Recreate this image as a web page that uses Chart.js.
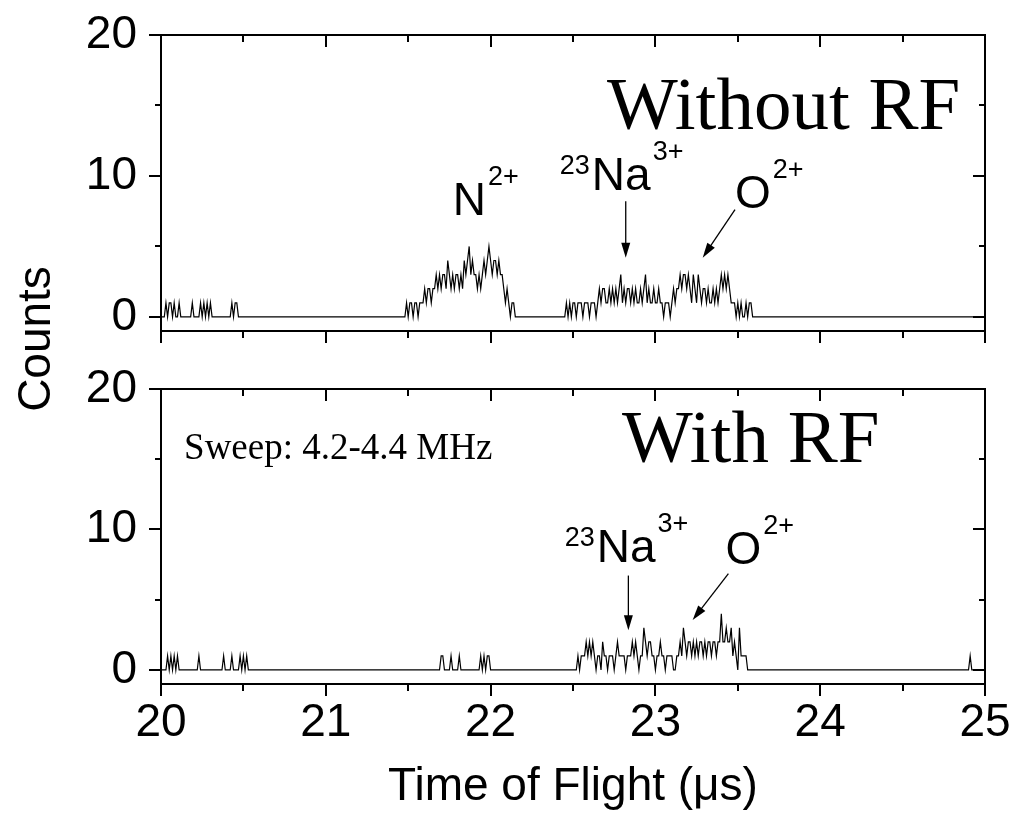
<!DOCTYPE html>
<html lang="en">
<head>
<meta charset="UTF-8">
<title>Time of Flight spectra</title>
<script src="https://cdn.jsdelivr.net/npm/chart.js"></script>
<style>
  body {
    margin: 0;
    padding: 0;
    background: #fff;
  }
  #tof-chart {
    display: block;
  }
</style>
</head>
<body>
<canvas id="tof-chart" width="1014" height="815"></canvas>
<script>
  // histogram bin width in microseconds
  const binWidth = 0.01;

  // "Without RF" panel: each run starts at runStart and has one count per bin
  const topRunStarts = [20.00, 20.18, 20.42, 21.48, 22.45, 25.00];
  const topRunCounts = [
    [0,0,0,1,0,1,1,0,1,0,0,1,0],
    [0,1,0,0,0,0,1,0,1,0,1,0,1,0],
    [0,1,0,1,1,0],
    [0,
     1,0,1,1,0,1,1,0,1,1,
     1,2,1,2,2,1,2,2,3,2,
     3,2,3,3,2,4,3,2,3,2,
     3,3,2,3,2,4,3,4,5,3,
     4,3,3,2,3,2,3,4,3,4,
     5,4,3,4,4,3,4,3,3,2,
     1,2,1,0,1,1,0],
    [0,
     1,0,1,0,1,1,0,1,1,1,
     0,1,1,1,0,1,1,1,0,1,
     2,1,2,2,1,1,2,1,2,1,
     2,1,2,3,1,2,1,2,2,1,
     2,1,2,1,1,2,1,2,3,1,
     2,1,1,2,1,1,2,1,1,0,
     1,1,1,0,1,2,1,2,2,3,
     2,3,3,2,3,2,1,3,2,1,
     3,2,1,2,2,1,2,1,1,2,
     1,2,1,2,3,2,3,2,3,2,
     1,1,1,0,1,0,1,0,0,1,
     0,1,1,0],
    [0]
  ];

  // "With RF" panel
  const botRunStarts = [20.00, 20.22, 20.37, 21.69, 21.93, 22.52, 24.90, 25.00];
  const botRunCounts = [
    [0,0,0,0,1,0,1,0,1,0,1,0],
    [0,1,0],
    [0,1,0,0,0,0,1,0,0,0,0,1,0,1,0,1,0],
    [0,1,1,0,0,0,0,1,0,0,0,0,1,0],
    [0,1,0,1,0,1,1,0],
    [0,
     1,0,1,1,1,2,1,2,1,2,
     1,0,1,1,0,2,1,1,0,1,
     1,1,0,1,2,1,1,1,1,0,
     1,1,1,2,1,2,1,0,1,1,
     3,2,1,2,2,1,1,0,1,1,
     2,1,1,0,1,1,1,1,0,0,
     1,1,2,1,3,2,1,2,2,1,
     2,1,2,1,2,2,1,2,1,2,
     2,1,2,2,1,2,2,4,2,2,
     3,2,2,3,1,2,1,0,3,1,
     1,1,1,0],
    [0,1,0],
    [0]
  ];

  // axis ticks
  const xTickLabels = [20, 21, 22, 23, 24, 25];
  const xTickMarks = [20, 20.5, 21, 21.5, 22, 22.5, 23, 23.5, 24, 24.5, 25];
  const yTickLabels = [0, 10, 20];
  const yTickMarks = [0, 5, 10, 15, 20];

  // peak labels: time (us) and counts of the text baseline
  const ionLabels = [
    { axis: 'yTop', t: 21.77, c: 7.26, pre: '', main: 'N', sup: '2+' },
    { axis: 'yTop', t: 22.42, c: 9.03, pre: '23', main: 'Na', sup: '3+' },
    { axis: 'yTop', t: 23.483, c: 7.73, pre: '', main: 'O', sup: '2+' },
    { axis: 'yBot', t: 22.45, c: 7.71, pre: '23', main: 'Na', sup: '3+' },
    { axis: 'yBot', t: 23.425, c: 7.57, pre: '', main: 'O', sup: '2+' }
  ];
  // arrows: from (t1,c1) to the tip (t2,c2)
  const arrows = [
    { axis: 'yTop', t1: 22.82, c1: 8.2, t2: 22.82, c2: 4.2 },
    { axis: 'yTop', t1: 23.483, c1: 7.61, t2: 23.287, c2: 4.2 },
    { axis: 'yBot', t1: 22.836, c1: 6.72, t2: 22.836, c2: 2.82 },
    { axis: 'yBot', t1: 23.443, c1: 6.86, t2: 23.226, c2: 3.55 }
  ];
  const panelTexts = [
    { axis: 'yTop', t: 22.706, c: 13.35, text: 'Without RF', size: 75 },
    { axis: 'yBot', t: 22.797, c: 14.8, text: 'With RF', size: 75 },
    { axis: 'yBot', t: 20.14, c: 15.0, text: 'Sweep: 4.2-4.4 MHz', size: 37 }
  ];

  function runsToPoints(starts, runs) {
    const pts = [];
    runs.forEach((run, r) => {
      run.forEach((n, i) => {
        pts.push({ x: Math.round((starts[r] + i * binWidth) * 1000) / 1000, y: n });
      });
    });
    return pts;
  }

  const sans = "'Liberation Sans', Arial, sans-serif";
  const serif = "'Liberation Serif', 'DejaVu Serif', serif";

  const framePlugin = {
    id: 'frames',
    afterDraw(chart) {
      const ctx = chart.ctx;
      const x = chart.scales.x;
      ctx.save();
      ctx.strokeStyle = '#000';
      ctx.fillStyle = '#000';
      ctx.lineWidth = 2;
      ['yTop', 'yBot'].forEach(id => {
        const y = chart.scales[id];
        ctx.strokeRect(x.left, y.top, x.right - x.left, y.bottom - y.top);
        ctx.beginPath();
        xTickMarks.forEach(v => {
          const px = Math.round(x.getPixelForValue(v));
          const len = Number.isInteger(v) ? 12 : 7;
          ctx.moveTo(px, y.top);
          ctx.lineTo(px, y.top + len);
          ctx.moveTo(px, y.bottom);
          ctx.lineTo(px, y.bottom + len);
        });
        yTickMarks.forEach(v => {
          const py = Math.round(y.getPixelForValue(v));
          const len = v % 10 === 0 ? 12 : 6;
          ctx.moveTo(x.left, py);
          ctx.lineTo(x.left - len, py);
          ctx.moveTo(x.right, py);
          ctx.lineTo(x.right - len, py);
        });
        ctx.stroke();
      });

      // y title shared by both panels
      ctx.save();
      ctx.translate(37, 339);
      ctx.rotate(-Math.PI / 2);
      ctx.font = '46px ' + sans;
      ctx.textAlign = 'center';
      ctx.textBaseline = 'middle';
      ctx.fillText('Counts', 0, 0);
      ctx.restore();

      // ion labels
      ctx.textBaseline = 'alphabetic';
      ctx.textAlign = 'left';
      ionLabels.forEach(l => {
        let px = x.getPixelForValue(l.t);
        const py = chart.scales[l.axis].getPixelForValue(l.c);
        if (l.pre) {
          ctx.font = '27px ' + sans;
          ctx.fillText(l.pre, px, py - 16);
          px += ctx.measureText(l.pre).width + 2;
        }
        ctx.font = '46px ' + sans;
        ctx.fillText(l.main, px, py);
        px += ctx.measureText(l.main).width + 2;
        ctx.font = '27px ' + sans;
        ctx.fillText(l.sup, px, py - 30);
      });

      // arrows
      ctx.lineWidth = 1.3;
      arrows.forEach(a => {
        const y = chart.scales[a.axis];
        const x1 = x.getPixelForValue(a.t1), y1 = y.getPixelForValue(a.c1);
        const x2 = x.getPixelForValue(a.t2), y2 = y.getPixelForValue(a.c2);
        const ang = Math.atan2(y2 - y1, x2 - x1);
        const head = 15, half = 4.5;
        ctx.beginPath();
        ctx.moveTo(x1, y1);
        ctx.lineTo(x2 - Math.cos(ang) * head * 0.6, y2 - Math.sin(ang) * head * 0.6);
        ctx.stroke();
        ctx.beginPath();
        ctx.moveTo(x2, y2);
        ctx.lineTo(x2 - Math.cos(ang) * head - Math.sin(ang) * half, y2 - Math.sin(ang) * head + Math.cos(ang) * half);
        ctx.lineTo(x2 - Math.cos(ang) * head + Math.sin(ang) * half, y2 - Math.sin(ang) * head - Math.cos(ang) * half);
        ctx.closePath();
        ctx.fill();
      });

      // panel captions
      panelTexts.forEach(p => {
        ctx.font = p.size + 'px ' + serif;
        ctx.fillText(p.text, x.getPixelForValue(p.t), chart.scales[p.axis].getPixelForValue(p.c));
      });
      ctx.restore();
    }
  };

  const tickFont = { family: sans, size: 46 };

  function panelAxis(weight) {
    return {
      type: 'linear',
      position: 'left',
      stack: 'panels',
      stackWeight: weight,
      min: -1,
      max: 20,
      afterBuildTicks: s => { s.ticks = yTickLabels.map(v => ({ value: v })); },
      afterFit: s => { s.width = 161; s.paddingTop = 0; s.paddingBottom = 0; },
      ticks: { font: tickFont, color: '#000', padding: 24 },
      grid: { display: false, drawTicks: false },
      border: { display: false }
    };
  }

  var ctx = document.getElementById('tof-chart').getContext('2d');
  var chart = new Chart(ctx, {
    type: 'line',
    data: {
      datasets: [{
        label: 'Without RF',
        data: runsToPoints(topRunStarts, topRunCounts),
        yAxisID: 'yTop',
        borderColor: '#000',
        borderWidth: 1.2,
        pointRadius: 0,
        tension: 0,
        fill: false
      }, {
        label: 'With RF',
        data: runsToPoints(botRunStarts, botRunCounts),
        yAxisID: 'yBot',
        borderColor: '#000',
        borderWidth: 1.2,
        pointRadius: 0,
        tension: 0,
        fill: false
      }]
    },
    options: {
      responsive: false,
      animation: false,
      parsing: false,
      layout: { padding: { top: 35, right: 29, left: 0, bottom: 0 } },
      plugins: {
        legend: { display: false },
        tooltip: { enabled: false }
      },
      scales: {
        x: {
          type: 'linear',
          position: 'bottom',
          min: 20,
          max: 25,
          afterBuildTicks: s => { s.ticks = xTickLabels.map(v => ({ value: v })); },
          afterFit: s => { s.height = 131; s.paddingLeft = 0; s.paddingRight = 0; },
          ticks: { font: tickFont, color: '#000', padding: 12, maxRotation: 0 },
          grid: { display: false, drawTicks: false },
          border: { display: false },
          title: {
            display: true,
            text: 'Time of Flight (\u03bcs)',
            font: { family: sans, size: 46 },
            color: '#000',
            padding: { top: 0, bottom: 0 }
          }
        },
        // defined bottom-to-top: the last left axis is stacked on top
        yBot: panelAxis(295),
        yGap: {
          type: 'linear',
          position: 'left',
          stack: 'panels',
          stackWeight: 58,
          afterFit: s => { s.width = 161; s.paddingTop = 0; s.paddingBottom = 0; },
          ticks: { display: false },
          grid: { display: false, drawTicks: false },
          border: { display: false }
        },
        yTop: panelAxis(296)
      }
    },
    plugins: [framePlugin]
  });
</script>
</body>
</html>
